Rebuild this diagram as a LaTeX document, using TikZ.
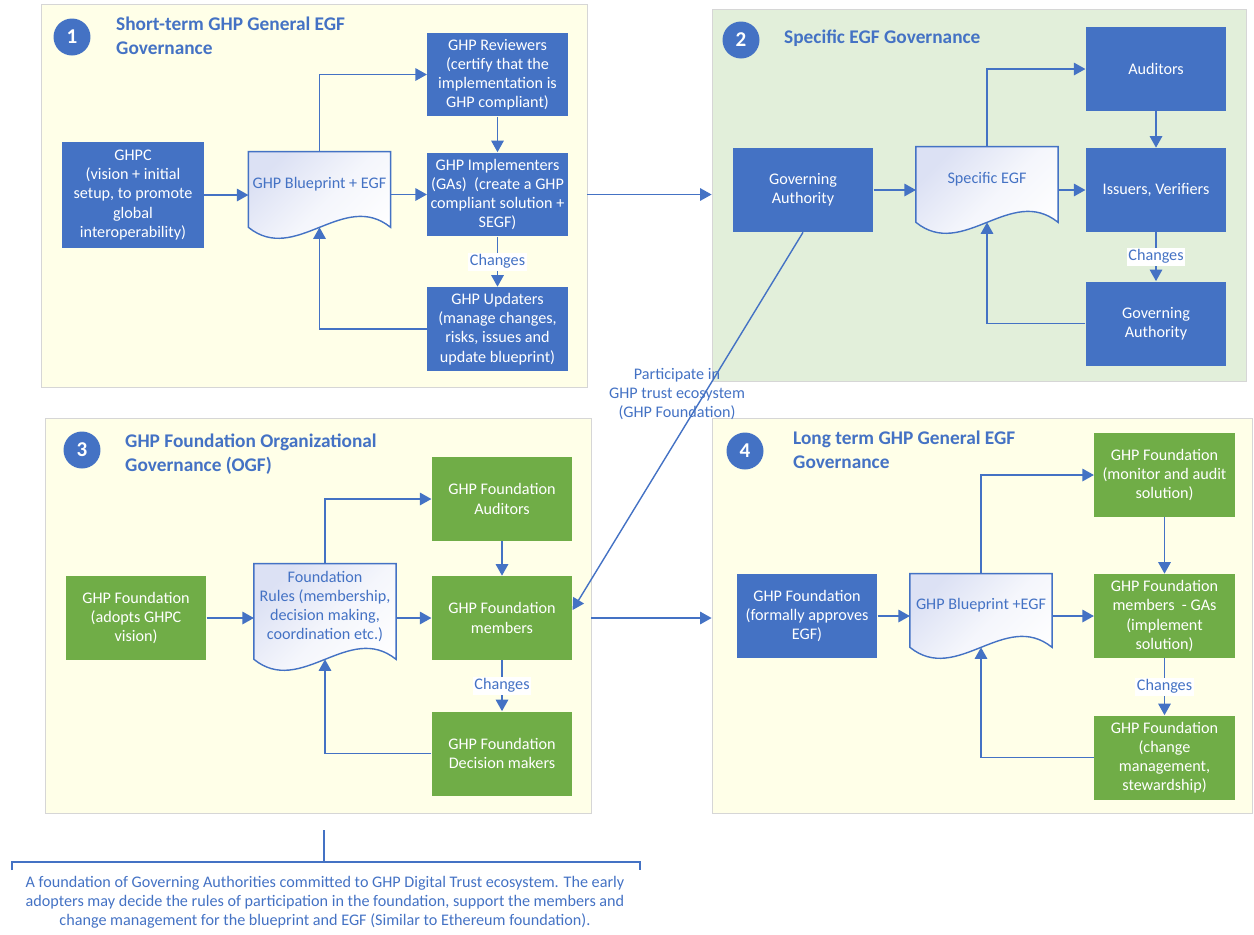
\documentclass[tikz,border=0pt]{standalone}
\usepackage{fontspec}
\setmainfont{Carlito}
\usetikzlibrary{arrows.meta,calc}

\definecolor{boxblue}{HTML}{4472C4}
\definecolor{boxgreen}{HTML}{70AD47}
\definecolor{paneyellow}{HTML}{FFFFE8}
\definecolor{panegreen}{HTML}{E2EFDA}
\definecolor{paneline}{HTML}{D6D6D6}
\definecolor{docshade}{HTML}{DCE1F4}

\newcommand{\docnode}[4]{%
  \path (#2) node[docframe, minimum height=#3] (#1) {};
  \draw[docline] (#1.north west) -- (#1.north east) -- ($(#1.south east)+(0,10)$)
    .. controls ($(#1.south east)+(-47,-28)$) and ($(#1.south west)+(47,48)$) .. ($(#1.south west)+(0,10)$) -- cycle;
  \node[doctext] (#1-t) at (#1) {#4};
  \coordinate (#1-w) at ($(#1.south)+(0,10)$);}

\begin{document}
\begin{tikzpicture}[x=0.02cm,y=-0.02cm,
  txt/.style={font=\fontsize{9.2}{10.9}\selectfont},
  panel/.style={draw=paneline,line width=0.5pt},
  box/.style={txt,rectangle,minimum width=2.81cm,minimum height=1.68cm,inner sep=1pt,align=center,text=white},
  bbox/.style={box,fill=boxblue},
  gbox/.style={box,fill=boxgreen},
  docframe/.style={rectangle,minimum width=2.83cm,inner sep=0pt},
  docline/.style={draw=boxblue,line width=0.8pt,top color=docshade,bottom color=white,middle color=white!70!docshade,shading angle=45},
  doctext/.style={txt,text=boxblue,align=center,inner sep=1pt},
  num/.style={circle,fill=boxblue,minimum size=0.74cm,inner sep=0pt,text=white,font=\bfseries\large},
  title/.style={anchor=west,align=left,text=boxblue,font=\fontsize{11}{13.6}\selectfont\bfseries},
  chg/.style={txt,fill=white,text=boxblue,inner sep=1pt},
  link/.style={draw=boxblue,line width=0.8pt,-{Triangle[length=0.23cm,width=0.25cm]}}]

\useasboundingbox (0,0) rectangle (1254,934);

\node[panel,fill=paneyellow,minimum width=10.92cm,minimum height=7.66cm] (p1) at (314,195.5) {};
\node[panel,fill=panegreen,minimum width=10.68cm,minimum height=7.44cm] (p2) at (979,195) {};
\node[panel,fill=paneyellow,minimum width=10.92cm,minimum height=7.9cm] (p3) at (318,615.5) {};
\node[panel,fill=paneyellow,minimum width=10.8cm,minimum height=7.9cm] (p4) at (982,615.5) {};

\node[num] (n1) at (72,37) {1};
\node[num] (n2) at (741,40) {2};
\node[num] (n3) at (82,450) {3};
\node[num] (n4) at (745,451) {4};

\node[title] (t1) at (110,36) {Short-term GHP General EGF\\Governance};
\node[title] (t2) at (778,38) {Specific EGF Governance};
\node[title] (t3) at (119,454) {GHP Foundation Organizational\\Governance (OGF)};
\node[title] (t4) at (787,450) {Long term GHP General EGF\\Governance};

\begin{scope}
\node[bbox,minimum width=2.84cm,minimum height=2.12cm] (ghpc) at (133,195) {GHPC\\(vision + initial\\setup, to promote\\global\\interoperability)};
\docnode{bp}{319.5,184.5}{1.3cm}{GHP Blueprint + EGF}
\node[bbox] (rev) at (497.5,74.5) {GHP Reviewers\\(certify that the\\implementation is\\GHP compliant)};
\node[bbox] (impl) at (497.5,194.5) {GHP Implementers\\(GAs)~~(create a GHP\\compliant solution +\\SEGF)};
\node[bbox] (upd) at (497.5,329) {GHP Updaters\\(manage changes,\\risks, issues and\\update blueprint)};

\draw[link] (ghpc.east) -- (ghpc.east -| bp.west);
\draw[link] (bp.east |- impl.west) -- (impl.west);
\draw[link] (bp.north) |- (rev);
\draw[link] (rev) -- (impl);
\draw[link] (impl) -- node[chg] (c1) {Changes} (upd);
\draw[link] (upd.west) -| (bp-w);
\end{scope}

\begin{scope}
\node[bbox] (ga) at (803,190) {Governing\\Authority};
\docnode{segf}{987,179.5}{1.3cm}{Specific EGF}
\node[bbox] (aud) at (1156,69) {Auditors};
\node[bbox] (iss) at (1156,190) {Issuers, Verifiers};
\node[bbox] (ga2) at (1156,323.5) {Governing\\Authority};

\draw[link] (ga.east) -- (ga.east -| segf.west);
\draw[link] (segf.east |- iss.west) -- (iss.west);
\draw[link] (segf.north) |- (aud);
\draw[link] (aud) -- (iss);
\draw[link] (iss) -- node[chg] (c2) {Changes} (ga2);
\draw[link] (ga2.west) -| (segf-w);
\end{scope}

\begin{scope}
\node[gbox] (fnd) at (136,618) {GHP Foundation\\(adopts GHPC\\vision)};
\docnode{rules}{325,606.5}{1.7cm}{Foundation\\Rules (membership,\\decision making,\\coordination etc.)}
\node[gbox] (faud) at (502,499) {GHP Foundation\\Auditors};
\node[gbox] (fmem) at (502,618) {GHP Foundation\\members};
\node[gbox] (fdec) at (502,753.5) {GHP Foundation\\Decision makers};

\draw[link] (fnd.east) -- (fnd.east -| rules.west);
\draw[link] (rules.east |- fmem.west) -- (fmem.west);
\draw[link] (rules.north) |- (faud);
\draw[link] (faud) -- (fmem);
\draw[link] (fmem) -- node[chg] (c3) {Changes} (fdec);
\draw[link] (fdec.west) -| (rules-w);
\end{scope}

\begin{scope}
\node[bbox] (lfnd) at (807,616) {GHP Foundation\\(formally approves\\EGF)};
\docnode{lbp}{981,605.5}{1.26cm}{GHP Blueprint +EGF}
\node[gbox] (lmon) at (1164.5,475) {GHP Foundation\\(monitor and audit\\solution)};
\node[gbox] (lmem) at (1164.5,616) {GHP Foundation\\members~~- GAs\\(implement\\solution)};
\node[gbox] (lchg) at (1164.5,757.5) {GHP Foundation\\(change\\management,\\stewardship)};

\draw[link] (lfnd.east) -- (lfnd.east -| lbp.west);
\draw[link] (lbp.east |- lmem.west) -- (lmem.west);
\draw[link] (lbp.north) |- (lmon);
\draw[link] (lmon) -- (lmem);
\draw[link] (lmem) -- node[chg] (c4) {Changes} (lchg);
\draw[link] (lchg.west) -| (lbp-w);
\end{scope}

\draw[link] (p1.east |- impl.east) -- (p2.west |- impl.east);
\draw[link] (p3.east |- fmem.east) -- (p4.west |- fmem.east);

\node[txt,text=boxblue,align=center] (part) at (677,394) {Participate in\\GHP trust ecosystem\\(GHP Foundation)};
\draw[link] (ga.south) -- ($(fmem.east)+(0,-8)$);

\coordinate (bt) at (324,830);
\coordinate (bl) at (12,870);
\coordinate (br) at (640,870);
\draw[boxblue,line width=0.6pt] (bt) -- (bt |- 0,862);
\draw[boxblue,line width=0.6pt] (bl) -- (bl |- 0,862) -- (br |- 0,862) -- (br);
\node[txt,text=boxblue,align=center] (note) at (325,902) {A foundation of Governing Authorities committed to GHP Digital Trust ecosystem. The early\\adopters may decide the rules of participation in the foundation, support the members and\\change management for the blueprint and EGF (Similar to Ethereum foundation).};

\end{tikzpicture}
\end{document}
